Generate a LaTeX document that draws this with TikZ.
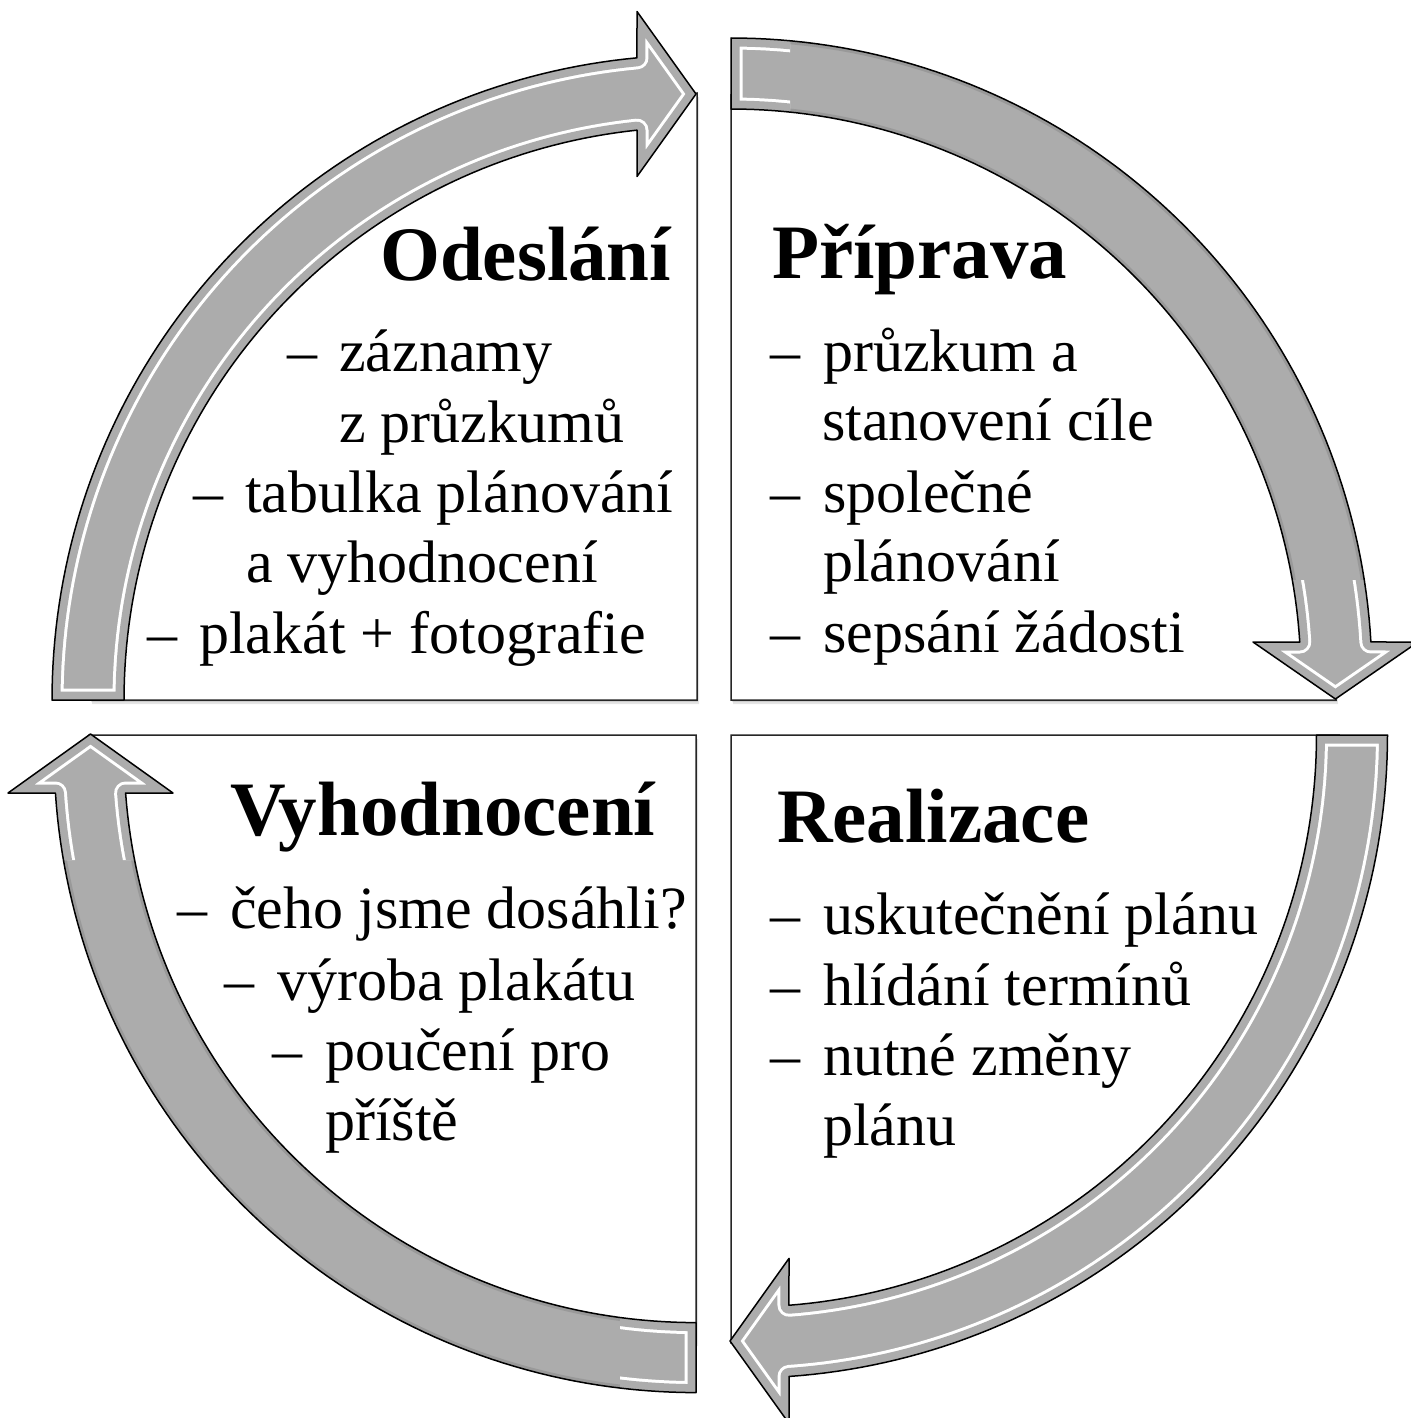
\documentclass[tikz,border=0pt]{standalone}
\usepackage{fontspec}
\setmainfont{Liberation Serif}
\definecolor{arrowgray}{RGB}{172,172,172}
\definecolor{edgegray}{RGB}{120,120,120}
\begin{document}
\begin{tikzpicture}[x=1pt,y=-1pt,
  body/.style={font=\fontsize{60}{70}\selectfont, anchor=base west, inner sep=0pt, text=black},
  ttl/.style={font=\fontsize{77}{90}\selectfont\bfseries, anchor=base west, inner sep=0pt, text=black},
  arrowshape/.style={fill=arrowgray, draw=black, line width=1.5pt, line join=round},
  boxshape/.style={fill=white, draw=black!85, line width=1.5pt},
  shadowshape/.style={fill=black, opacity=0.10},
  bevelwhite/.style={draw=white, line width=23pt, line join=round},
  bevelgray/.style={draw=arrowgray, line width=17pt, line join=round},
  edgedark/.style={draw=edgegray, line width=7pt, opacity=0.35, line join=round}]
\useasboundingbox (0,0) rectangle (1410,1418);
\fill[white] (0,0) rectangle (1410,1418);

% ---- box outlines (quarter shapes) ----
\def\boxTL{(697,700) -- (90,700) -- plot[domain=180:270,samples=60,variable=\t] ({697+607*cos(\t)},{700+607*sin(\t)}) -- cycle}
\def\boxTR{(731,700) -- (731,95) -- plot[domain=270:360,samples=60,variable=\t] ({731+605*cos(\t)},{700+605*sin(\t)}) -- cycle}
\def\boxBR{(731,735) -- (1339,735) -- plot[domain=0:90,samples=60,variable=\t] ({731+608*cos(\t)},{735+608*sin(\t)}) -- cycle}
\def\boxBL{(696,735) -- (696,1342) -- plot[domain=90:180,samples=60,variable=\t] ({696+607*cos(\t)},{735+607*sin(\t)}) -- cycle}

% ---- arrow outlines ----
\def\arrTL{(52,700) -- plot[domain=180:264.66,samples=80,variable=\t] ({697+645*cos(\t)},{700+645*sin(\t)}) -- (637,11.5) -- (696,94) -- (637,176.5) -- plot[domain=263.99:180,samples=80,variable=\t] ({697+573*cos(\t)},{700+573*sin(\t)}) -- cycle}
\def\arrTR{(731,38) -- plot[domain=270:356.69,samples=80,variable=\t] ({731+641*cos(\t)},{679+641*sin(\t)}) -- (1418,642) -- (1335.4,699) -- (1253,642) -- plot[domain=356.28:270,samples=80,variable=\t] ({731+570*cos(\t)},{679+570*sin(\t)}) -- cycle}
\def\arrBR{(1387.5,735) -- plot[domain=0:86.03,samples=80,variable=\t] ({744.5+643*cos(\t)},{735+643*sin(\t)}) -- (789,1423.4) -- (730,1341) -- (789,1258.4) -- plot[domain=85.54:0,samples=80,variable=\t] ({744.5+572*cos(\t)},{735+572*sin(\t)}) -- cycle}
\def\arrBL{(696,1392.6) -- plot[domain=90:176.21,samples=80,variable=\t] ({696+642*cos(\t)},{750.6+642*sin(\t)}) -- (8,793) -- (90.5,734) -- (173,793) -- plot[domain=175.75:90,samples=80,variable=\t] ({696+572*cos(\t)},{750.6+572*sin(\t)}) -- cycle}

% shadows
\begin{scope}[shift={(2,4)}]
  \fill[shadowshape] \boxTL;
  \fill[shadowshape] \boxTR;
  \fill[shadowshape] \boxBR;
  \fill[shadowshape] \boxBL;
\end{scope}
\begin{scope}[shift={(1,2)}]
  \fill[shadowshape] \boxTL;
  \fill[shadowshape] \boxTR;
  \fill[shadowshape] \boxBR;
  \fill[shadowshape] \boxBL;
\end{scope}
% boxes
\path[boxshape] \boxTL;
\path[boxshape] \boxTR;
\path[boxshape] \boxBR;
\path[boxshape] \boxBL;

% ---- texts ----
% top left
\node[ttl]  (tl0) at (380,280) {Odeslání};
\node[body] (tl1d) at (287,371) {–};
\node[body] (tl1) at (339,371) {záznamy};
\node[body] (tl2) at (339,442) {z průzkumů};
\node[body] (tl3d) at (193,512) {–};
\node[body] (tl3) at (245,512) {tabulka plánování};
\node[body] (tl4) at (246,582) {a vyhodnocení};
\node[body] (tl5d) at (147,653) {–};
\node[body] (tl5) at (199,653) {plakát + fotografie};
% top right
\node[ttl]  (tr0) at (772,278) {Příprava};
\node[body] (tr1d) at (770,371) {–};
\node[body] (tr1) at (823,371) {průzkum a};
\node[body] (tr2) at (822,440) {stanovení cíle};
\node[body] (tr3d) at (770,512) {–};
\node[body] (tr3) at (823,512) {společné};
\node[body] (tr4) at (823,581) {plánování};
\node[body] (tr5d) at (770,652) {–};
\node[body] (tr5) at (823,652) {sepsání žádosti};
% bottom left
\node[ttl]  (bl0) at (230,835) {Vyhodnocení};
\node[body] (bl1d) at (177,928) {–};
\node[body] (bl1) at (230,928) {čeho jsme dosáhli?};
\node[body] (bl2d) at (224,1000) {–};
\node[body] (bl2) at (277,1000) {výroba plakátu};
\node[body] (bl3d) at (272,1070) {–};
\node[body] (bl3) at (325,1070) {poučení pro};
\node[body] (bl4) at (325,1140) {příště};
% bottom right
\node[ttl]  (br0) at (777,842) {Realizace};
\node[body] (br1d) at (770,934) {–};
\node[body] (br1) at (823,934) {uskutečnění plánu};
\node[body] (br2d) at (770,1005) {–};
\node[body] (br2) at (823,1005) {hlídání termínů};
\node[body] (br3d) at (770,1075) {–};
\node[body] (br3) at (823,1075) {nutné změny};
\node[body] (br4) at (823,1145) {plánu};

% ---- arrows ----
\fill[arrowgray] \arrTL;
\fill[arrowgray] \arrTR;
\fill[arrowgray] \arrBR;
\fill[arrowgray] \arrBL;

% bevel effects, full on TL and BR
\begin{scope}
  \clip \arrTL;
  \path[bevelwhite] \arrTL;
  \path[bevelgray] \arrTL;
\end{scope}
\begin{scope}
  \clip \arrBR;
  \path[bevelwhite] \arrBR;
  \path[bevelgray] \arrBR;
\end{scope}
% TR and BL: darker edges along the arc, bevel near the ends
\begin{scope}
  \clip \arrTR;
  \path[edgedark] \arrTR;
  \begin{scope}
    \clip (700,0) rectangle (790,200) (1180,580) rectangle (1410,720);
    \path[bevelwhite] \arrTR;
    \path[bevelgray] \arrTR;
  \end{scope}
\end{scope}
\begin{scope}
  \clip \arrBL;
  \path[edgedark] \arrBL;
  \begin{scope}
    \clip (0,700) rectangle (230,860) (620,1260) rectangle (720,1418);
    \path[bevelwhite] \arrBL;
    \path[bevelgray] \arrBL;
  \end{scope}
\end{scope}

% outlines
\path[arrowshape, fill=none] \arrTL;
\path[arrowshape, fill=none] \arrTR;
\path[arrowshape, fill=none] \arrBR;
\path[arrowshape, fill=none] \arrBL;
\end{tikzpicture}
\end{document}
